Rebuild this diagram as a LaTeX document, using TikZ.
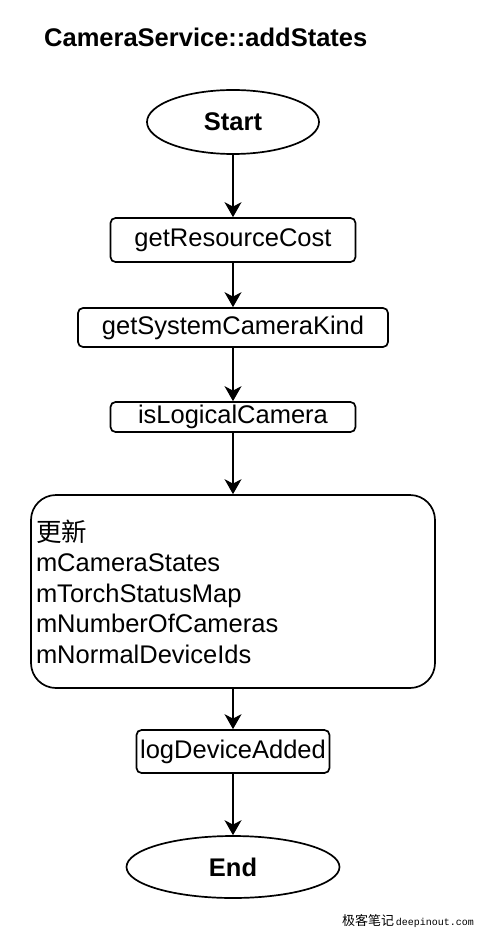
\documentclass[tikz,border=0pt]{standalone}
\usepackage{fontspec}
\setmainfont{Liberation Sans}
\newfontfamily\cjk{Noto Sans CJK SC}
\newfontfamily\wm{Liberation Mono}
\usetikzlibrary{shapes.geometric,arrows.meta}
\tikzset{% styles for the flow chart
    t/.style={ellipse, draw=black, line width=1.7pt, inner sep=0pt,
      font=\fontsize{25.5}{30}\selectfont\bfseries},
    b/.style={rectangle, rounded corners=5pt, draw=black, line width=1.7pt,
      inner sep=0pt, font=\fontsize{25.5}{30}\selectfont},
    e/.style={-{Stealth[length=15pt,width=17pt,inset=4.5pt]}, line width=1.7pt}}

\begin{document}
\begin{tikzpicture}[x=1pt,y=-1pt]
  \useasboundingbox (0,0) rectangle (477,928);
  \node[anchor=west, inner sep=0pt, font=\fontsize{25.5}{30}\selectfont\bfseries] (title) at (44,37) {CameraService::addStates};

  \node[t, minimum width=172pt, minimum height=64pt] (start) at (233,122) {Start};
  \node[b, minimum width=245pt, minimum height=44pt] (cost) at (233,240) {getResourceCost};
  \node[b, minimum width=310pt, minimum height=39pt] (kind) at (233,327.5) {getSystemCameraKind};
  \node[b, minimum width=245pt, minimum height=30pt] (logical) at (233,417) {isLogicalCamera};
  \node[b, rounded corners=25pt, minimum width=404pt, minimum height=193pt,
    inner xsep=5pt, text width=394pt, align=left,
    font=\fontsize{25.5}{30.5}\selectfont] (update) at (233,591.5)
    {{\cjk 更新}\\mCameraStates\\mTorchStatusMap\\mNumberOfCameras\\mNormalDeviceIds};
  \node[b, minimum width=193pt, minimum height=43pt] (added) at (233,751.5) {logDeviceAdded};
  \node[t, minimum width=213pt, minimum height=62pt] (end) at (233,867) {End};

  \node[anchor=east, inner sep=0pt] (mark) at (474,921)
    {{\cjk\fontsize{13}{13}\selectfont 极客笔记}\,{\wm\fontsize{10}{10}\selectfont deepinout.com}};

  \draw[e] (start) -- (cost);
  \draw[e] (cost) -- (kind);
  \draw[e] (kind) -- (logical);
  \draw[e] (logical) -- (update);
  \draw[e] (update) -- (added);
  \draw[e] (added) -- (end);
\end{tikzpicture}
\end{document}
